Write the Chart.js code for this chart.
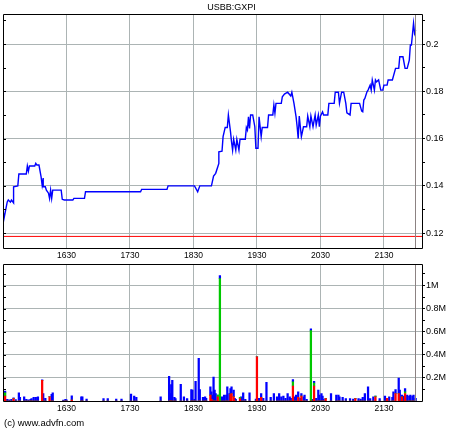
<!DOCTYPE html>
<html><head><meta charset="utf-8">
<script src="https://cdn.jsdelivr.net/npm/chart.js@4"></script>
<style>
html,body{margin:0;padding:0;background:#fff;}
#wrap{position:relative;width:460px;height:430px;background:#fff;overflow:hidden;}
#c1{position:absolute;left:0;top:0;}
#c2{position:absolute;left:0;top:258px;}
#copy{position:absolute;left:4px;top:417px;font:9.5px "Liberation Sans",Arial,sans-serif;color:#000;white-space:nowrap;}
</style></head><body>
<div id="wrap">
<canvas id="c1" width="460" height="262"></canvas>
<canvas id="c2" width="460" height="160"></canvas>
<div id="copy">(c) www.advfn.com</div>
</div>
<script>
const TITLE = 'USBB:GXPI';
const X_MIN = '15:30', X_MAX = '22:06';
const HOUR_TICKS = ['16:30','17:30','18:30','19:30','20:30','21:30'];
const HOUR_LABELS = ['1630','1730','1830','1930','2030','2130'];
const PRICE_TICKS = [0.12,0.14,0.16,0.18,0.2];
const PRICE_LABELS = ['0.12','0.14','0.16','0.18','0.2'];
const PRICE_MINOR = [0.13,0.15,0.17,0.19,0.21];
const PRICE_MIN = 0.1137, PRICE_MAX = 0.2127;
const PREV_CLOSE = 0.1186;
const PREV_CLOSE_TIMES = ['15:30','22:06'];
const MARKER_TIME = '21:59';

const PRICE_TIMES = ['15:30','15:31','15:34','15:35','15:37','15:38','15:40','15:40','15:44','15:45','15:52','15:53','15:54','15:55','16:00','16:01','16:02','16:04','16:06','16:07','16:08','16:08','16:10','16:11','16:13','16:14','16:15','16:16','16:17','16:25','16:26','16:28','16:36','16:37','16:47','16:48','17:40','17:41','18:05','18:06','18:31','18:34','18:36','18:47','18:49','18:51','18:53','18:54','18:54','18:57','18:58','19:00','19:02','19:03','19:05','19:06','19:07','19:08','19:10','19:11','19:13','19:14','19:19','19:20','19:21','19:22','19:23','19:24','19:26','19:28','19:29','19:31','19:32','19:34','19:35','19:40','19:41','19:45','19:46','19:47','19:48','19:53','19:54','19:56','19:59','20:02','20:03','20:05','20:07','20:08','20:09','20:10','20:11','20:12','20:14','20:17','20:18','20:20','20:21','20:23','20:25','20:26','20:28','20:29','20:30','20:32','20:33','20:37','20:38','20:43','20:44','20:47','20:48','20:50','20:52','20:54','20:55','20:58','20:59','21:07','21:09','21:10','21:11','21:12','21:14','21:15','21:17','21:18','21:19','21:21','21:22','21:23','21:25','21:27','21:29','21:30','21:33','21:34','21:38','21:41','21:44','21:45','21:48','21:50','21:52','21:54','21:55','21:56','21:58','21:59','22:00'];
const PRICES = [0.1300,0.1263,0.1332,0.1340,0.1331,0.1340,0.1328,0.1396,0.1400,0.1450,0.1450,0.1484,0.1462,0.1484,0.1484,0.1495,0.1488,0.1488,0.1438,0.1403,0.1433,0.1396,0.1396,0.1382,0.1369,0.1347,0.1382,0.1347,0.1382,0.1382,0.1343,0.1340,0.1340,0.1347,0.1347,0.1375,0.1375,0.1385,0.1385,0.1400,0.1400,0.1375,0.1400,0.1400,0.1441,0.1453,0.1481,0.1495,0.1544,0.1547,0.1608,0.1647,0.1647,0.1700,0.1629,0.1586,0.1551,0.1597,0.1551,0.1597,0.1551,0.1597,0.1597,0.1647,0.1636,0.1692,0.1643,0.1700,0.1700,0.1650,0.1559,0.1559,0.1692,0.1608,0.1647,0.1647,0.1700,0.1700,0.1742,0.1707,0.1749,0.1749,0.1777,0.1788,0.1796,0.1780,0.1796,0.1749,0.1692,0.1650,0.1600,0.1695,0.1650,0.1608,0.1650,0.1650,0.1695,0.1650,0.1695,0.1650,0.1700,0.1657,0.1700,0.1650,0.1695,0.1713,0.1700,0.1700,0.1749,0.1749,0.1796,0.1796,0.1749,0.1796,0.1796,0.1749,0.1709,0.1700,0.1749,0.1749,0.1716,0.1713,0.1763,0.1770,0.1798,0.1805,0.1826,0.1805,0.1848,0.1805,0.1848,0.1840,0.1848,0.1805,0.1805,0.1826,0.1826,0.1848,0.1848,0.1897,0.1897,0.1946,0.1946,0.1897,0.1897,0.1932,0.1996,0.1996,0.2088,0.2045,0.2059];

const VOL_TIMES = ['15:30','15:32','15:34','15:36','15:38','15:40','15:42','15:45','15:46','15:50','15:52','15:54','15:56','15:57','15:59','16:01','16:03','16:07','16:08','16:10','16:14','16:16','16:17','16:27','16:29','16:30','16:35','16:44','16:45','16:49','17:05','17:09','17:17','17:22','17:31','17:34','17:36','17:59','18:07','18:08','18:09','18:10','18:12','18:13','18:18','18:21','18:24','18:28','18:29','18:31','18:32','18:35','18:36','18:39','18:41','18:42','18:46','18:47','18:48','18:49','18:50','18:51','18:53','18:55','18:57','18:59','19:01','19:02','19:04','19:05','19:06','19:08','19:09','19:10','19:14','19:15','19:17','19:19','19:23','19:29','19:30','19:32','19:34','19:36','19:39','19:43','19:46','19:49','19:51','19:53','19:55','19:57','19:59','20:01','20:02','20:04','20:06','20:07','20:09','20:11','20:12','20:14','20:15','20:17','20:21','20:22','20:24','20:26','20:28','20:29','20:31','20:32','20:33','20:35','20:40','20:45','20:47','20:48','20:51','20:54','20:58','21:01','21:03','21:06','21:08','21:10','21:12','21:15','21:17','21:20','21:22','21:26','21:31','21:33','21:35','21:38','21:39','21:41','21:44','21:45','21:47','21:48','21:50','21:52','21:54','21:55','21:57','21:58','22:00'];
const VOL_RED   = [0,43,0,0,0,20,0,0,0,0,0,0,0,0,0,0,0,178,0,0,37,0,0,0,0,0,8,0,0,0,0,0,0,0,0,0,0,0,0,0,0,0,0,0,0,0,0,0,0,0,0,0,0,0,0,0,51,14,0,0,0,0,37,0,0,0,0,0,0,57,65,37,0,0,20,0,0,0,0,0,383,0,31,0,0,0,0,0,0,0,0,0,0,0,0,130,0,0,31,0,43,0,0,0,0,0,130,0,0,0,0,0,0,20,0,0,0,0,0,0,0,0,20,0,0,0,0,0,0,0,37,0,0,23,0,0,0,65,65,0,37,0,65,0,0,0,0,0,0];
const VOL_GREEN = [0,28,0,0,0,0,0,0,0,0,0,0,0,0,0,0,0,0,0,0,0,0,0,0,0,0,0,0,0,0,0,0,0,0,0,0,0,0,0,0,0,0,0,0,0,0,0,0,0,0,0,0,0,0,0,0,0,0,0,0,0,0,14,1060,0,0,0,0,0,0,0,0,0,0,11,0,0,0,0,0,0,0,0,0,0,0,0,0,0,0,0,0,0,0,0,35,0,0,0,0,0,0,0,0,610,0,25,0,0,0,0,0,0,0,0,0,0,0,0,0,0,0,0,0,0,0,0,0,0,0,6,0,0,0,0,0,0,0,0,0,0,0,14,0,0,0,0,0,0];
const VOL_BLUE  = [37,14,14,10,14,8,12,71,31,37,14,10,14,20,31,31,37,6,65,23,0,57,71,8,14,10,37,37,37,17,20,20,17,17,60,43,31,37,213,65,142,179,31,20,145,37,20,99,94,14,170,369,99,31,37,23,71,65,51,207,94,65,0,27,37,51,51,122,65,51,57,57,23,14,0,37,71,14,71,17,0,23,34,23,162,31,65,37,65,37,43,23,65,37,23,20,37,51,48,23,22,37,51,14,14,14,15,23,94,51,65,43,14,0,65,51,51,37,31,20,20,17,0,20,17,31,65,122,20,37,0,20,43,0,37,31,79,34,134,94,14,43,29,51,43,51,43,51,23];
const VOL_TICKS = [200,400,600,800,1000];
const VOL_LABELS = ['0.2M','0.4M','0.6M','0.8M','1M'];
const VOL_MINOR = [100,300,500,700,900,1100];
const VOL_MAX = 1183;

const FONT = '"Liberation Sans", Arial, sans-serif';
const GRID = '#acb4b4';
const toMin = t => { const [h,m] = t.split(':').map(Number); return h*60+m; };
const near = (arr, v) => arr.findIndex(a => Math.abs(a - v) < 1e-7);

const framePlugin = {
  id: 'frame',
  afterDatasetsDraw(chart) {
    const {ctx, chartArea: a, scales} = chart;
    ctx.save();
    const mx = Math.round(scales.x.getPixelForValue(toMin(MARKER_TIME))) + 0.5;
    ctx.strokeStyle = '#8c8282'; ctx.lineWidth = 1;
    ctx.beginPath(); ctx.moveTo(mx, a.top); ctx.lineTo(mx, a.bottom); ctx.stroke();
    ctx.strokeStyle = '#000';
    scales.y.ticks.forEach(t => {
      const y = Math.round(scales.y.getPixelForValue(t.value)) + 0.5;
      ctx.beginPath(); ctx.moveTo(a.left, y); ctx.lineTo(a.left + 3, y); ctx.stroke();
    });
    const l = Math.round(a.left) + 0.5, r = Math.round(a.right) + 0.5;
    const t = Math.round(a.top) + 0.5, b = Math.round(a.bottom) + 0.5;
    ctx.beginPath();
    ctx.moveTo(l, t); ctx.lineTo(r, t); ctx.lineTo(r, b); ctx.lineTo(l, b); ctx.closePath();
    ctx.stroke();
    ctx.restore();
  }
};

function xScale(h) {
  return {
    type: 'linear', min: toMin(X_MIN), max: toMin(X_MAX), offset: false,
    afterBuildTicks: ax => { ax.ticks = HOUR_TICKS.map(t => ({value: toMin(t)})); },
    afterFit: ax => { ax.height = h; },
    ticks: { callback: (v, i) => HOUR_LABELS[i], autoSkip: false, maxRotation: 0, padding: 3,
             color: '#000', font: {family: FONT, size: 8.5} },
    grid: { color: GRID, drawTicks: false, offset: false },
    border: { display: false }
  };
}
function yScale(min, max, major, labels, minor) {
  return {
    position: 'right', min, max,
    afterBuildTicks: ax => { ax.ticks = [...major, ...minor].sort((a, b) => a - b).map(v => ({value: v})); },
    afterFit: ax => { ax.width = 38; },
    ticks: { callback: v => { const i = near(major, v); return i >= 0 ? labels[i] : ''; },
             autoSkip: false, padding: 1, color: '#000', font: {family: FONT, size: 9} },
    grid: { color: c => near(major, c.tick.value) >= 0 ? GRID : 'rgba(0,0,0,0)',
            tickColor: '#000', tickLength: 3, drawTicks: true },
    border: { display: false }
  };
}

new Chart(document.getElementById('c1'), {
  type: 'line',
  data: { datasets: [
    { label: 'prev', data: PREV_CLOSE_TIMES.map(t => ({x: toMin(t), y: PREV_CLOSE})),
      borderColor: '#ff0000', backgroundColor: '#ff0000', borderWidth: 1, pointRadius: 0,
      showLine: true, spanGaps: true, fill: false },
    { label: 'price', data: PRICE_TIMES.map((t, i) => ({x: toMin(t), y: PRICES[i]})),
      borderColor: '#0000ff', backgroundColor: '#0000ff', borderWidth: 1.4, pointRadius: 0, tension: 0, fill: false }
  ]},
  options: {
    responsive: false, animation: false, devicePixelRatio: 1, events: [],
    layout: { padding: {left: 3, right: 0, top: 0, bottom: 0} },
    plugins: {
      legend: {display: false}, tooltip: {enabled: false},
      title: { display: true, text: TITLE, color: '#000', font: {family: FONT, size: 9, weight: 'normal', lineHeight: 1.2},
               padding: {top: 2, bottom: 1.2} }
    },
    scales: { x: xScale(14), y: yScale(PRICE_MIN, PRICE_MAX, PRICE_TICKS, PRICE_LABELS, PRICE_MINOR) }
  },
  plugins: [framePlugin]
});

const mk = arr => VOL_TIMES.map((t, i) => ({x: toMin(t), y: arr[i]}));
new Chart(document.getElementById('c2'), {
  type: 'bar',
  data: { datasets: [
    { data: mk(VOL_RED), backgroundColor: '#ff0000', barThickness: 1.6 },
    { data: mk(VOL_GREEN), backgroundColor: '#00c800', barThickness: 1.6 },
    { data: mk(VOL_BLUE), backgroundColor: '#0000ff', barThickness: 1.6 }
  ]},
  options: {
    responsive: false, animation: false, devicePixelRatio: 1, events: [],
    layout: { padding: {left: 3, right: 0, top: 4, bottom: 0} },
    plugins: { legend: {display: false}, tooltip: {enabled: false} },
    scales: {
      x: Object.assign(xScale(17), {stacked: true}),
      y: Object.assign(yScale(0, VOL_MAX, VOL_TICKS, VOL_LABELS, VOL_MINOR), {stacked: true})
    }
  },
  plugins: [framePlugin]
});
</script>
</body></html>
